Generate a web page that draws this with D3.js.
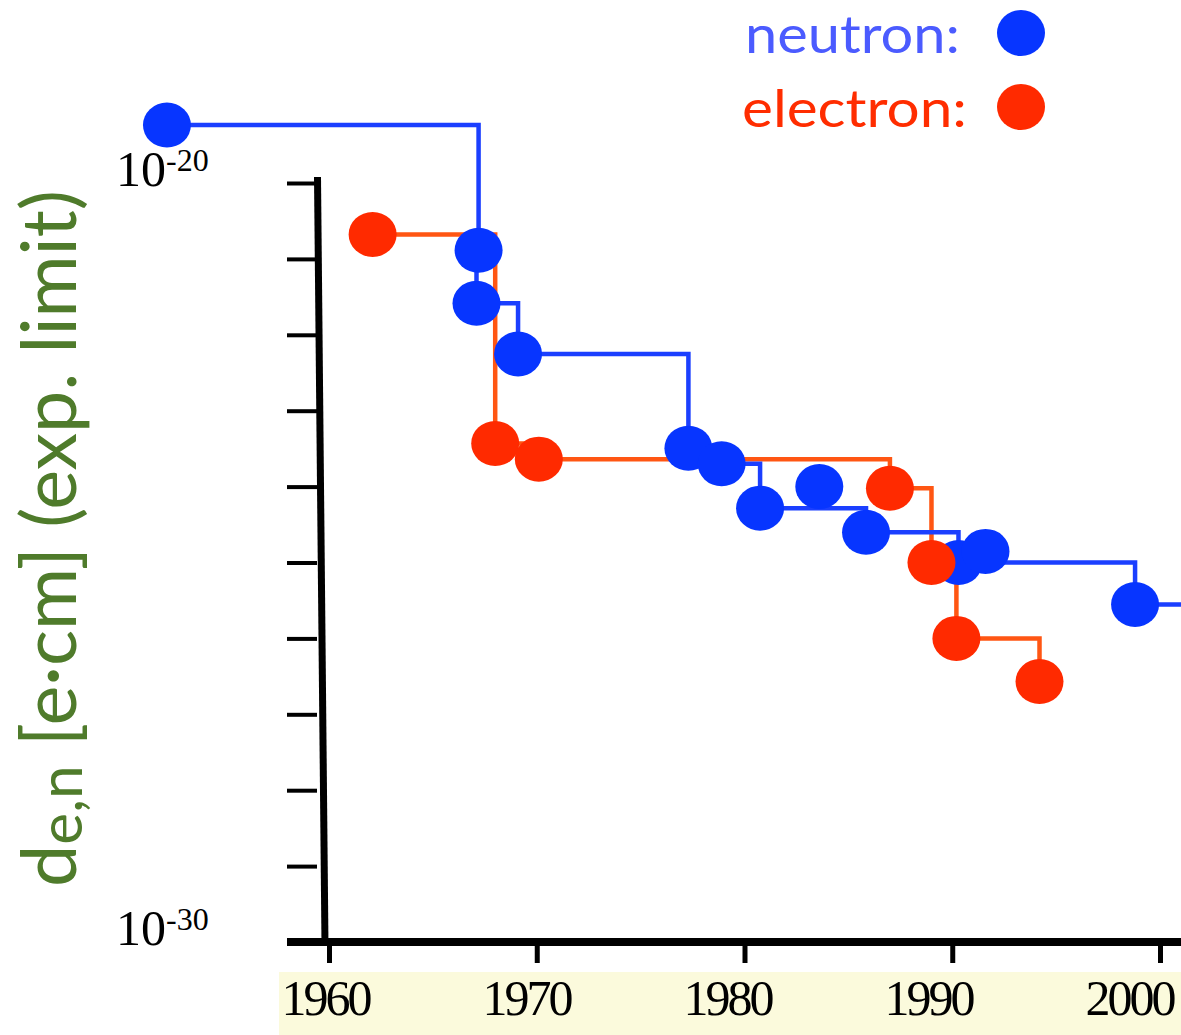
<!DOCTYPE html>
<html>
<head>
<meta charset="utf-8">
<script src="https://cdn.jsdelivr.net/npm/d3@7"></script>
<style>
  body { margin: 0; background: #fff; }
  svg { display: block; }
</style>
</head>
<body>
<div id="chart"></div>
<script>
// experimental EDM limits, year of result and limit in e*cm
var neutronYears = [1952.2, 1967.2, 1967.1, 1969.1, 1977.3, 1978.9, 1980.75, 1983.6, 1985.85, 1990.3, 1991.6, 1998.8];
var neutronLimits = [5.8e-20, 1.3e-21, 2.6e-22, 5.6e-23, 3.2e-24, 2.0e-24, 5.2e-25, 1.0e-24, 2.5e-25, 1.0e-25, 1.4e-25, 2.8e-26];
var electronYears = [1962.1, 1968.0, 1970.1, 1987.0, 1989.0, 1990.2, 1994.2];
var electronLimits = [2.1e-21, 3.7e-24, 2.3e-24, 9.5e-25, 1.0e-25, 1.0e-26, 2.7e-27];
var yearTicks = [1960, 1970, 1980, 1990, 2000];
var decadeTicks = [1e-20, 1e-21, 1e-22, 1e-23, 1e-24, 1e-25, 1e-26, 1e-27, 1e-28, 1e-29, 1e-30];
var yTickLabels = [{v: 1e-20, exp: "-20"}, {v: 1e-30, exp: "-30"}];
var legendItems = [
  {label: "neutron:", text: "#4b5bff", dot: "#0735ff", x: 745, w: 215},
  {label: "electron:", text: "#ff2d00", dot: "#ff2a00", x: 742, w: 225}
];

var W = 1181, H = 1035;
var blue = "#0735ff", blueLine = "#1b3fff";
var red = "#ff2a00", redLine = "#ff5613";
var green = "#4f7b2b";
var sans = "Lato, 'Open Sans', sans-serif";
var serif = "'Liberation Serif', 'Times New Roman', serif";

var svg = d3.select("#chart").append("svg")
    .attr("width", W)
    .attr("height", H);

var x = d3.scaleLinear().domain([1960, 2000]).range([329, 1160]);
var xLabel = d3.scaleLinear().domain([1960, 2000]).range([325, 1129]);
var y = d3.scaleLog().domain([1e-30, 1e-20]).range([942, 183]);

// pale strip behind the year labels
svg.append("rect")
    .attr("x", 279).attr("y", 972)
    .attr("width", W - 279).attr("height", H - 972)
    .attr("fill", "#fbfadc");

// y ticks
var yAxis = svg.append("g")
    .attr("transform", "translate(317,0)")
    .call(d3.axisLeft(y).tickValues(decadeTicks).tickSize(30).tickFormat(""));
yAxis.select(".domain").remove();
yAxis.selectAll(".tick line").attr("stroke", "#000").attr("stroke-width", 4);

// x ticks
var xAxis = svg.append("g")
    .attr("transform", "translate(0,942)")
    .call(d3.axisBottom(x).tickValues(yearTicks).tickSize(21).tickFormat(""));
xAxis.select(".domain").remove();
xAxis.selectAll(".tick line").attr("stroke", "#000").attr("stroke-width", 5);

// axis lines (the vertical one leans a little, as in the original)
svg.append("line")
    .attr("x1", 317.5).attr("y1", 177)
    .attr("x2", 325).attr("y2", 946)
    .attr("stroke", "#000").attr("stroke-width", 7);
svg.append("line")
    .attr("x1", 287).attr("y1", 942)
    .attr("x2", W).attr("y2", 942)
    .attr("stroke", "#000").attr("stroke-width", 8);

// year labels
var xLab = svg.append("g")
    .attr("transform", "translate(0,1015)")
    .call(d3.axisBottom(xLabel).tickValues(yearTicks).tickSize(0).tickFormat(d3.format("d")));
xLab.select(".domain").remove();
xLab.selectAll(".tick text")
    .attr("y", 0).attr("dy", 0)
    .attr("font-family", serif)
    .attr("font-size", 50)
    .attr("letter-spacing", -3)
    .attr("fill", "#000");

// y labels 10^-20, 10^-30
var yl = svg.selectAll(".ylab").data(yTickLabels).enter().append("text")
    .attr("class", "ylab")
    .attr("x", 116)
    .attr("y", function(d) { return y(d.v) + 3; })
    .attr("font-family", serif)
    .attr("fill", "#000");
yl.append("tspan").attr("font-size", 50).text("10");
yl.append("tspan").attr("font-size", 32).attr("dy", -15).text(function(d) { return d.exp; });

// running best limit drawn as a staircase
function stairs(years, limits, endYear) {
    var pts = [[years[0], limits[0]]];
    var best = limits[0];
    for (var i = 1; i < years.length; i++) {
        if (limits[i] < best) {
            best = limits[i];
            pts.push([years[i], best]);
        }
    }
    if (endYear) pts.push([endYear, best]);
    return pts;
}

var step = d3.line()
    .x(function(d) { return x(d[0]); })
    .y(function(d) { return y(d[1]); })
    .curve(d3.curveStepAfter);

svg.append("path")
    .datum(stairs(electronYears, electronLimits))
    .attr("d", step)
    .attr("fill", "none")
    .attr("stroke", redLine)
    .attr("stroke-width", 4.5);

svg.append("path")
    .datum(stairs(neutronYears, neutronLimits, 2003))
    .attr("d", step)
    .attr("fill", "none")
    .attr("stroke", blueLine)
    .attr("stroke-width", 4.5);

svg.selectAll(".npt").data(d3.zip(neutronYears, neutronLimits)).enter().append("ellipse")
    .attr("class", "npt")
    .attr("cx", function(d) { return x(d[0]); })
    .attr("cy", function(d) { return y(d[1]); })
    .attr("rx", 24).attr("ry", 22.5)
    .attr("fill", blue);

svg.selectAll(".ept").data(d3.zip(electronYears, electronLimits)).enter().append("ellipse")
    .attr("class", "ept")
    .attr("cx", function(d) { return x(d[0]); })
    .attr("cy", function(d) { return y(d[1]); })
    .attr("rx", 24).attr("ry", 22.5)
    .attr("fill", red);

// legend
var lg = svg.selectAll(".leg").data(legendItems).enter().append("g")
    .attr("class", "leg")
    .attr("transform", function(d, i) { return "translate(0," + (i * 74) + ")"; });
lg.append("text")
    .attr("x", function(d) { return d.x; })
    .attr("y", 53)
    .attr("font-family", sans)
    .attr("font-size", 52)
    .attr("textLength", function(d) { return d.w; })
    .attr("lengthAdjust", "spacingAndGlyphs")
    .attr("fill", function(d) { return d.text; })
    .text(function(d) { return d.label; });
lg.append("ellipse")
    .attr("cx", 1021).attr("cy", 33)
    .attr("rx", 24).attr("ry", 23)
    .attr("fill", function(d) { return d.dot; });

// rotated y title
var title = svg.append("text")
    .attr("transform", "translate(76,887) rotate(-90)")
    .attr("font-family", sans)
    .attr("font-size", 72)
    .attr("fill", green);
title.append("tspan").text("d");
title.append("tspan").attr("font-size", "80%").attr("dy", 6).text("e,n");
title.append("tspan").attr("dy", -6).text(" [e\u00b7cm] (exp. limit)");
var tl = title.node().getComputedTextLength();
title.attr("font-size", 72 * 697 / tl);
</script>
</body>
</html>
